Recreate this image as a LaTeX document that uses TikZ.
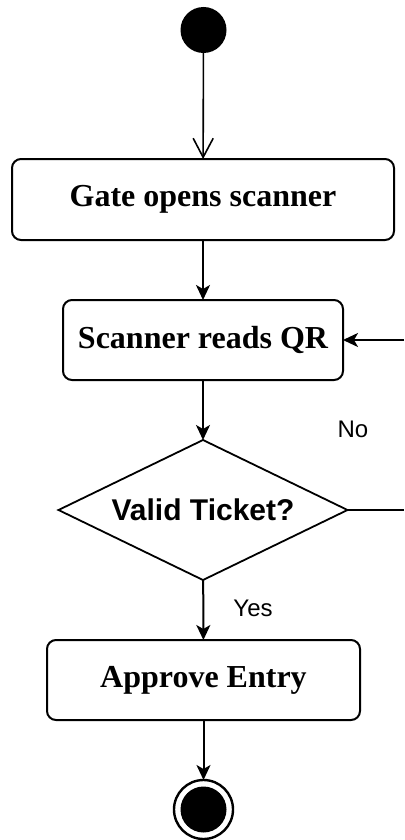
\documentclass[tikz,border=0pt]{standalone}
\usepackage{fontspec}
\setmainfont{Liberation Serif}
\setsansfont{Liberation Sans}
\usetikzlibrary{shapes.geometric,arrows.meta}

\tikzset{
  every node/.style={inner sep=0pt, outer sep=0pt},
  action/.style={draw, line width=2pt, rounded corners=9pt, fill=white,
    font=\fontsize{32}{36}\selectfont\bfseries},
  decision/.style={draw, line width=1.8pt, diamond, aspect=2.06,
    minimum width=289pt, minimum height=140pt,
    font=\sffamily\fontsize{30}{34}\selectfont\bfseries},
  guard/.style={font=\sffamily\fontsize{24}{27}\selectfont},
  flow/.style={line width=2pt, -{Stealth[length=15pt,width=14pt,inset=4pt]}},
  openflow/.style={line width=1.6pt, -{Straight Barb[length=19pt,width=20pt,line width=1.6pt]}},
  plain/.style={line width=2pt},
}

\begin{document}
\begin{tikzpicture}[x=1pt, y=-1pt]
  \useasboundingbox (0,0) rectangle (404,840);

  % initial and final states
  \node[circle, fill=black, minimum size=46pt] (start) at (203.5,30) {};
  \node[circle, draw, line width=2.4pt, minimum size=59pt] (stop) at (203.5,809.5) {};
  \node[circle, fill=black, minimum size=46pt] (stopdot) at (203.5,809.5) {};

  % actions and decision
  \node[action, minimum width=382pt, minimum height=81pt] (gate) at (203,199.5) {Gate opens scanner};
  \node[action, minimum width=280pt, minimum height=80pt] (scan) at (203,340) {Scanner reads QR};
  \node[decision] (valid) at (203,510) {Valid Ticket?};
  \node[action, minimum width=313pt, minimum height=80pt] (approve) at (203.5,680) {Approve Entry};

  % guards
  \node[guard] (nolabel) at (353,429) {No};
  \node[guard] (yeslabel) at (253,608) {Yes};

  % loop-back ends at the right border
  \coordinate (noout) at (404,510);
  \coordinate (noin) at (404,340);

  % flows
  \draw[openflow] (start) -- (gate);
  \draw[flow] (gate) -- (scan);
  \draw[flow] (scan) -- (valid);
  \draw[flow] (valid) -- (approve);
  \draw[flow] (approve) -- (stop);
  \draw[plain] (valid.east) -- (noout);
  \draw[flow] (noin) -- (scan.east);
\end{tikzpicture}
\end{document}
